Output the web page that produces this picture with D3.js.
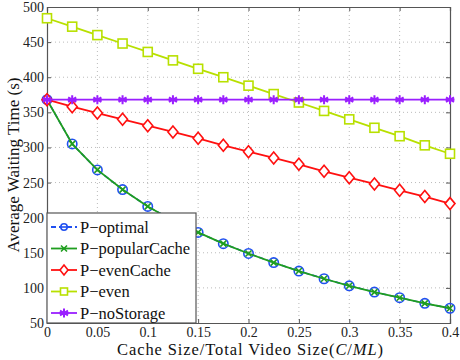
<!DOCTYPE html>
<html>
<head>
<meta charset="utf-8">
<script src="https://cdn.jsdelivr.net/npm/d3@7"></script>
<style>
  body { margin: 0; background: #fff; }
</style>
</head>
<body>
<svg width="460" height="360"></svg>
<script>
var svg = d3.select("svg");
var FONT = "Liberation Serif";

// cache size ratio
var xs = [0, 0.025, 0.05, 0.075, 0.1, 0.125, 0.15, 0.175, 0.2, 0.225, 0.25, 0.275, 0.3, 0.325, 0.35, 0.375, 0.4];
var xTicks = [0, 0.05, 0.1, 0.15, 0.2, 0.25, 0.3, 0.35, 0.4];
var yTicks = [50, 100, 150, 200, 250, 300, 350, 400, 450, 500];

var optimal = [368, 305, 268, 240, 216, 196, 179, 163, 149, 136, 124, 113, 103, 94, 86, 78, 71];
var popularCache = [368, 305, 268, 240, 216, 196, 179, 163, 149, 136, 124, 113, 103, 94, 86, 78, 71];
var evenCache = [368, 358, 349, 340, 331, 322, 313, 303, 294, 285, 276, 266, 257, 248, 239, 230, 220];
var even = [484, 472, 460, 448, 436, 424, 412, 400, 388, 376, 364, 352, 340, 328, 316, 303, 291];
var noStorage = [368, 368, 368, 368, 368, 368, 368, 368, 368, 368, 368, 368, 368, 368, 368, 368, 368];

var names = ["P\u2212optimal", "P\u2212popularCache", "P\u2212evenCache", "P\u2212even", "P\u2212noStorage"];

var series = [
  { name: names[0], values: optimal, color: "#2050f0", marker: "circle", dash: "5,3" },
  { name: names[1], values: popularCache, color: "#1f9e1f", marker: "x", dash: null },
  { name: names[2], values: evenCache, color: "#ff1010", marker: "diamond", dash: null },
  { name: names[3], values: even, color: "#b8e000", marker: "square", dash: null },
  { name: names[4], values: noStorage, color: "#9a1fff", marker: "star", dash: null }
];

var padL = 47, padR = 450, padT = 7, padB = 323;
var x = d3.scaleLinear().domain([0, 0.4]).range([padL, padR]);
var y = d3.scaleLinear().domain([50, 500]).range([padB, padT]);

// grid
var grid = svg.append("g");
grid.selectAll(".gx").data(xTicks.slice(1, -1)).enter().append("line")
  .attr("x1", function (d) { return x(d); }).attr("x2", function (d) { return x(d); })
  .attr("y1", padT).attr("y2", padB)
  .attr("stroke", "#bbb").attr("stroke-width", 1).attr("stroke-dasharray", "1,3");
grid.selectAll(".gy").data(yTicks.slice(1, -1)).enter().append("line")
  .attr("y1", function (d) { return y(d); }).attr("y2", function (d) { return y(d); })
  .attr("x1", padL).attr("x2", padR)
  .attr("stroke", "#bbb").attr("stroke-width", 1).attr("stroke-dasharray", "1,3");

// axes
var xAxis = d3.axisBottom(x).tickValues(xTicks).tickSize(-4).tickPadding(4)
  .tickFormat(function (d) { return d === 0 ? "0" : String(+d.toFixed(2)); });
var yAxis = d3.axisLeft(y).tickValues(yTicks).tickSize(-4).tickPadding(3);
var xTop = d3.axisTop(x).tickValues(xTicks).tickSize(-4).tickFormat("");
var yRight = d3.axisRight(y).tickValues(yTicks).tickSize(-4).tickFormat("");

function styleAxis(g) {
  g.attr("font-family", FONT).attr("font-size", null);
  g.selectAll("path").attr("stroke", "#555").attr("stroke-width", 1.2);
  g.selectAll("line").attr("stroke", "#555");
  g.selectAll("text").attr("fill", "#222").attr("font-size", 14);
}
svg.append("g").attr("transform", "translate(0," + padB + ")").call(xAxis).call(styleAxis);
svg.append("g").attr("transform", "translate(" + padL + ",0)").call(yAxis).call(styleAxis);
svg.append("g").attr("transform", "translate(0," + padT + ")").call(xTop).call(styleAxis);
svg.append("g").attr("transform", "translate(" + padR + ",0)").call(yRight).call(styleAxis);

function drawMarker(g, type, color) {
  if (type === "circle") {
    g.append("circle").attr("r", 4.7).attr("fill", "none").attr("stroke", color).attr("stroke-width", 1.6);
  } else if (type === "x") {
    g.append("path").attr("d", "M-3,-3L3,3M-3,3L3,-3").attr("stroke", color).attr("stroke-width", 1.6);
  } else if (type === "diamond") {
    g.append("path").attr("d", "M0,-6L5,0L0,6L-5,0Z").attr("fill", "#fff").attr("stroke", color).attr("stroke-width", 1.6);
  } else if (type === "square") {
    g.append("rect").attr("x", -4.5).attr("y", -4.5).attr("width", 9).attr("height", 9)
      .attr("fill", "#fff").attr("stroke", color).attr("stroke-width", 1.6);
  } else if (type === "star") {
    g.append("path").attr("d", "M0,-4.5L0,4.5M-4,-2.3L4,2.3M-4,2.3L4,-2.3M-4.5,0L4.5,0")
      .attr("stroke", color).attr("stroke-width", 2);
  }
}

var line = d3.line().x(function (d, i) { return x(xs[i]); }).y(function (d) { return y(d); });

series.forEach(function (s) {
  var g = svg.append("g");
  if (s.marker === "circle") {
    // markers of the optimal series sit below the green line
    s.values.forEach(function (v, i) {
      drawMarker(g.append("g").attr("transform", "translate(" + x(xs[i]) + "," + y(v) + ")"), s.marker, s.color);
    });
    g.append("path").datum(s.values).attr("d", line).attr("fill", "none")
      .attr("stroke", s.color).attr("stroke-width", 1.6).attr("stroke-dasharray", s.dash);
    return;
  }
  g.append("path").datum(s.values).attr("d", line).attr("fill", "none")
    .attr("stroke", s.color).attr("stroke-width", 1.8);
  s.values.forEach(function (v, i) {
    drawMarker(g.append("g").attr("transform", "translate(" + x(xs[i]) + "," + y(v) + ")"), s.marker, s.color);
  });
});

// legend
var lg = svg.append("g");
lg.append("rect").attr("x", padL).attr("y", 213).attr("width", 149).attr("height", padB - 213)
  .attr("fill", "#fff").attr("stroke", "#555").attr("stroke-width", 1.2);
series.forEach(function (s, i) {
  var cy = 227 + i * 21.5;
  lg.append("line").attr("x1", 51).attr("x2", 77).attr("y1", cy).attr("y2", cy)
    .attr("stroke", s.color).attr("stroke-width", 1.8).attr("stroke-dasharray", s.dash);
  var m = lg.append("g").attr("transform", "translate(64," + cy + ")");
  if (s.marker === "circle") {
    m.append("circle").attr("r", 3.2).attr("fill", "#fff").attr("stroke", s.color).attr("stroke-width", 1.6);
    m.append("line").attr("x1", -3).attr("x2", 3).attr("stroke", s.color).attr("stroke-width", 1.6);
  } else if (s.marker === "diamond") {
    m.append("path").attr("d", "M0,-5L4,0L0,5L-4,0Z").attr("fill", "#fff").attr("stroke", s.color).attr("stroke-width", 1.6);
  } else if (s.marker === "square") {
    m.append("rect").attr("x", -3.5).attr("y", -3.5).attr("width", 7).attr("height", 7)
      .attr("fill", "#fff").attr("stroke", s.color).attr("stroke-width", 1.6);
  } else {
    drawMarker(m, s.marker, s.color);
  }
  lg.append("text").attr("x", 80).attr("y", cy + 5.5).text(s.name)
    .attr("font-size", 16.5).attr("fill", "#111");
});

// axis labels
svg.append("text").attr("x", (padL + padR) / 2 + 2).attr("y", 355).attr("text-anchor", "middle")
  .attr("font-size", 16.5).attr("letter-spacing", 0.9).attr("fill", "#111")
  .html('Cache Size/Total Video Size(<tspan font-style="italic">C</tspan>/<tspan font-style="italic">ML</tspan>)');
svg.append("text").attr("transform", "translate(19," + (padT + padB) / 2 + ") rotate(-90)")
  .attr("text-anchor", "middle").attr("font-size", 17).attr("fill", "#111")
  .text("Average Waiting Time (s)");

svg.selectAll("text").attr("font-family", FONT);
</script>
</body>
</html>
